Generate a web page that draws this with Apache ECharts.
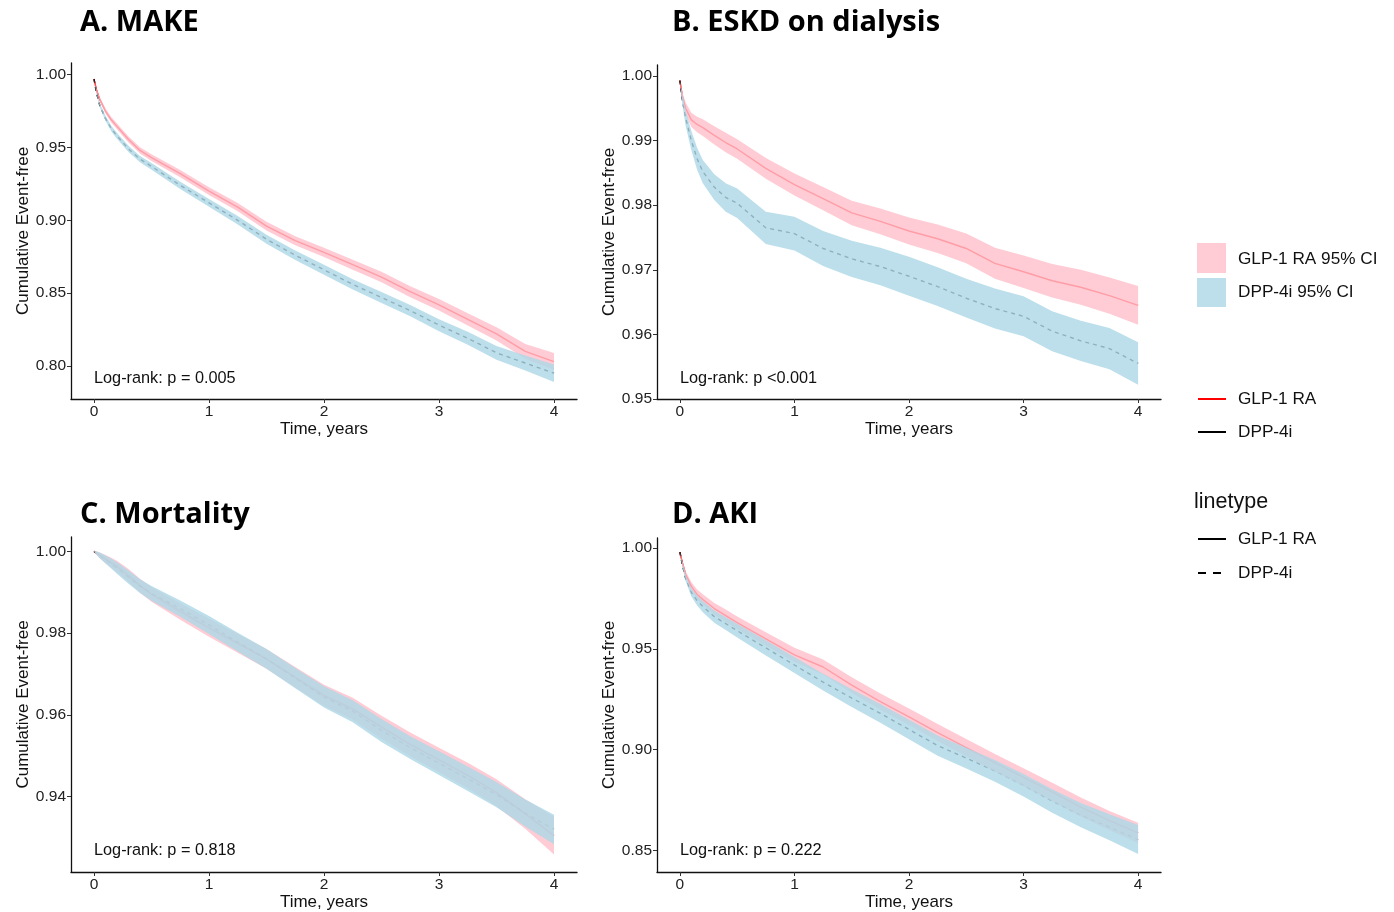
<!DOCTYPE html>
<html>
<head>
<meta charset="utf-8">
<title>Kaplan-Meier curves</title>
<script src="https://cdn.jsdelivr.net/npm/echarts@6/dist/echarts.min.js"></script>
<style>
  html, body { margin: 0; padding: 0; background: #fff; }
  #km-chart { width: 1394px; height: 912px; }
</style>
</head>
<body>
<div id="km-chart"></div>
<script>
const TIME = [0, 0.02, 0.05, 0.1, 0.15, 0.2, 0.3, 0.4, 0.5, 0.75, 1, 1.25, 1.5, 1.75, 2, 2.25, 2.5, 2.75, 3, 3.25, 3.5, 3.75, 4];
const X_TICKS = [0, 1, 2, 3, 4];

// A. MAKE (estimate and 95% CI half-width)
const MAKE_GLP = [0.997, 0.990, 0.983, 0.975, 0.969, 0.9645, 0.9555, 0.948, 0.943, 0.932, 0.920, 0.909, 0.896, 0.886, 0.878, 0.8695, 0.861, 0.851, 0.842, 0.832, 0.822, 0.810, 0.803];
const MAKE_GLP_HW = [0, 0.001, 0.0013, 0.0017, 0.0019, 0.002, 0.0021, 0.0022, 0.0023, 0.0025, 0.0027, 0.0028, 0.003, 0.0031, 0.0032, 0.0034, 0.0036, 0.0038, 0.004, 0.0042, 0.0045, 0.005, 0.0058];
const MAKE_DPP = [0.997, 0.988, 0.979, 0.970, 0.963, 0.958, 0.949, 0.942, 0.937, 0.924, 0.912, 0.900, 0.887, 0.876, 0.866, 0.856, 0.847, 0.838, 0.828, 0.819, 0.809, 0.802, 0.795];
const MAKE_DPP_HW = [0, 0.001, 0.0013, 0.0017, 0.0019, 0.002, 0.0021, 0.0022, 0.0023, 0.0025, 0.0027, 0.0029, 0.0031, 0.0032, 0.0034, 0.0035, 0.0037, 0.0039, 0.0041, 0.0044, 0.0047, 0.0052, 0.006];
const MAKE_Y_TICKS = [0.80, 0.85, 0.90, 0.95, 1.00];

// B. ESKD on dialysis
const ESKD_GLP = [0.9993, 0.9970, 0.9950, 0.9932, 0.9925, 0.9920, 0.9908, 0.9897, 0.9887, 0.9857, 0.9832, 0.9810, 0.9788, 0.9775, 0.9760, 0.9748, 0.9733, 0.9710, 0.9697, 0.9683, 0.9673, 0.9660, 0.9645];
const ESKD_GLP_HW = [0, 0.0006, 0.0009, 0.0011, 0.0012, 0.0013, 0.0014, 0.0015, 0.0015, 0.0016, 0.0017, 0.0018, 0.0019, 0.002, 0.0021, 0.0022, 0.0023, 0.0024, 0.0025, 0.0026, 0.0027, 0.0028, 0.003];
const ESKD_DPP = [0.9993, 0.9965, 0.9935, 0.9900, 0.9872, 0.9852, 0.9828, 0.9812, 0.9803, 0.9765, 0.9756, 0.9733, 0.9717, 0.9705, 0.9690, 0.9674, 0.9656, 0.9640, 0.9628, 0.9605, 0.9590, 0.9578, 0.9555];
const ESKD_DPP_HW = [0, 0.0008, 0.0012, 0.0015, 0.0017, 0.0018, 0.002, 0.0022, 0.0023, 0.0025, 0.0026, 0.0027, 0.0028, 0.0029, 0.003, 0.003, 0.003, 0.0031, 0.0031, 0.0031, 0.0031, 0.0032, 0.0033];
const ESKD_Y_TICKS = [0.95, 0.96, 0.97, 0.98, 0.99, 1.00];

// C. Mortality
const MORT_GLP = [1.0, 0.9996, 0.9990, 0.9981, 0.9972, 0.9963, 0.9941, 0.9916, 0.9895, 0.9853, 0.9813, 0.9775, 0.9737, 0.9692, 0.9648, 0.9615, 0.9570, 0.9528, 0.9490, 0.9452, 0.9410, 0.9358, 0.9305];
const MORT_GLP_HW = [0, 0.0004, 0.0007, 0.001, 0.0012, 0.0014, 0.0016, 0.0017, 0.0018, 0.002, 0.0022, 0.0023, 0.0024, 0.0025, 0.0026, 0.0027, 0.0028, 0.0029, 0.003, 0.0031, 0.0033, 0.0036, 0.0046];
const MORT_DPP = [1.0, 0.9996, 0.9990, 0.9980, 0.9970, 0.9959, 0.9937, 0.9915, 0.9897, 0.9860, 0.9820, 0.9778, 0.9737, 0.9690, 0.9644, 0.9609, 0.9562, 0.9520, 0.9482, 0.9444, 0.9405, 0.9360, 0.9320];
const MORT_DPP_HW = [0, 0.0004, 0.0007, 0.001, 0.0012, 0.0014, 0.0016, 0.0017, 0.0018, 0.002, 0.0022, 0.0023, 0.0024, 0.0025, 0.0026, 0.0027, 0.0028, 0.0028, 0.0029, 0.003, 0.0031, 0.0033, 0.0036];
const MORT_Y_TICKS = [0.94, 0.96, 0.98, 1.00];

// D. AKI
const AKI_GLP = [0.998, 0.993, 0.987, 0.981, 0.977, 0.9745, 0.970, 0.9665, 0.963, 0.955, 0.947, 0.941, 0.932, 0.9238, 0.9163, 0.9085, 0.901, 0.8935, 0.8863, 0.8790, 0.8715, 0.8648, 0.8587];
const AKI_GLP_HW = [0, 0.001, 0.0015, 0.002, 0.0024, 0.0026, 0.0028, 0.003, 0.0031, 0.0033, 0.0035, 0.0037, 0.0039, 0.004, 0.0041, 0.0042, 0.0043, 0.0044, 0.0045, 0.0046, 0.0047, 0.0048, 0.005];
const AKI_DPP = [0.998, 0.992, 0.985, 0.978, 0.974, 0.971, 0.966, 0.9625, 0.959, 0.9505, 0.942, 0.9335, 0.9256, 0.918, 0.910, 0.902, 0.8958, 0.8895, 0.8823, 0.8745, 0.8675, 0.8615, 0.8554];
const AKI_DPP_HW = [0, 0.001, 0.0015, 0.002, 0.0025, 0.0028, 0.003, 0.0032, 0.0034, 0.0038, 0.004, 0.0042, 0.0044, 0.0046, 0.0048, 0.005, 0.0052, 0.0054, 0.0056, 0.0058, 0.006, 0.0065, 0.0072];
const AKI_Y_TICKS = [0.85, 0.90, 0.95, 1.00];

const TITLES = ['A. MAKE', 'B. ESKD on dialysis', 'C. Mortality', 'D. AKI'];
const LOGRANK = ['Log-rank: p = 0.005', 'Log-rank: p <0.001', 'Log-rank: p = 0.818', 'Log-rank: p = 0.222'];

const TEXT_FONT = '"Liberation Sans", Arial, sans-serif';
const TITLE_FONT = '"Open Sans", "Noto Sans", sans-serif';
const PINK = '#FFC0CB';
const LIGHTBLUE = '#ADD8E6';
const BAND_OPACITY = 0.82;

let panels = [
    {glp: MAKE_GLP, glpHw: MAKE_GLP_HW, dpp: MAKE_DPP, dppHw: MAKE_DPP_HW, ticks: MAKE_Y_TICKS,
     yMin: 0.7773, yMax: 1.008, titleX: 80, titleY: 8, grid: {left: 71, top: 63, width: 506, height: 336}},
    {glp: ESKD_GLP, glpHw: ESKD_GLP_HW, dpp: ESKD_DPP, dppHw: ESKD_DPP_HW, ticks: ESKD_Y_TICKS,
     yMin: 0.95, yMax: 1.0017, titleX: 672, titleY: 8, grid: {left: 657, top: 65, width: 504, height: 334}},
    {glp: MORT_GLP, glpHw: MORT_GLP_HW, dpp: MORT_DPP, dppHw: MORT_DPP_HW, ticks: MORT_Y_TICKS,
     yMin: 0.9216, yMax: 1.0035, titleX: 80, titleY: 500, grid: {left: 71, top: 537, width: 506, height: 335}},
    {glp: AKI_GLP, glpHw: AKI_GLP_HW, dpp: AKI_DPP, dppHw: AKI_DPP_HW, ticks: AKI_Y_TICKS,
     yMin: 0.8393, yMax: 1.005, titleX: 672, titleY: 500, grid: {left: 657, top: 538, width: 504, height: 334}}
];

let echarts_km = echarts.init(document.getElementById('km-chart'));


function band_series(idx, est, hw, color) {
    return {
        type: 'custom',
        xAxisIndex: idx,
        yAxisIndex: idx,
        silent: true,
        z: 3,
        encode: {x: 0, y: [1, 2]},
        data: TIME.map((t, i) => [t, est[i] - hw[i], est[i] + hw[i]]),
        renderItem: function (params, api) {
            if (params.dataIndexInside !== 0) {
                return null;
            }
            let upper = [];
            let lower = [];
            TIME.forEach((t, i) => {
                upper.push(api.coord([t, est[i] + hw[i]]));
                lower.unshift(api.coord([t, est[i] - hw[i]]));
            });
            return {
                type: 'polygon',
                shape: {points: upper.concat(lower)},
                style: {fill: color, opacity: BAND_OPACITY}
            };
        }
    };
}


function line_series(idx, est, color, dashed) {
    return {
        type: 'line',
        xAxisIndex: idx,
        yAxisIndex: idx,
        silent: true,
        z: 2,
        showSymbol: false,
        symbol: 'none',
        lineStyle: {color: color, width: 1.4, type: dashed ? [4, 4] : 'solid'},
        data: TIME.map((t, i) => [t, est[i]])
    };
}


let grids = [], xAxes = [], yAxes = [], series = [], titles = [], graphics = [];

panels.forEach((p, idx) => {
    grids.push(Object.assign({outerBoundsMode: 'none', containLabel: false}, p.grid));

    xAxes.push({
        type: 'value',
        gridIndex: idx,
        min: -0.2,
        max: 4.2,
        splitLine: {show: false},
        axisLine: {show: true, onZero: false, lineStyle: {color: '#111', width: 1.3}},
        axisTick: {show: true, length: 4, customValues: X_TICKS, lineStyle: {color: '#333'}},
        axisLabel: {customValues: X_TICKS, margin: 5, color: '#222', fontSize: 15.5, fontFamily: TEXT_FONT},
        name: 'Time, years',
        nameLocation: 'middle',
        nameGap: 19,
        nameTextStyle: {color: '#111', fontSize: 17, fontFamily: TEXT_FONT}
    });

    yAxes.push({
        type: 'value',
        gridIndex: idx,
        min: p.yMin,
        max: p.yMax,
        splitLine: {show: false},
        axisLine: {show: true, onZero: false, lineStyle: {color: '#111', width: 1.3}},
        axisTick: {show: true, length: 4, customValues: p.ticks, lineStyle: {color: '#333'}},
        axisLabel: {
            customValues: p.ticks,
            margin: 5,
            color: '#222',
            fontSize: 15.5,
            fontFamily: TEXT_FONT,
            formatter: v => v.toFixed(2)
        },
        name: 'Cumulative Event-free',
        nameLocation: 'middle',
        nameGap: 36,
        nameTextStyle: {color: '#111', fontSize: 17, fontFamily: TEXT_FONT}
    });

    // lines sit under the semi-transparent CI bands, like the original plot
    series.push(line_series(idx, p.glp, '#FF0000', false));
    series.push(line_series(idx, p.dpp, '#000000', true));
    series.push(band_series(idx, p.glp, p.glpHw, PINK));
    series.push(band_series(idx, p.dpp, p.dppHw, LIGHTBLUE));

    titles.push({
        text: TITLES[idx],
        left: p.titleX,
        top: p.titleY,
        padding: 0,
        textStyle: {fontFamily: TITLE_FONT, fontWeight: 'bold', fontSize: 29, color: '#000'}
    });

    graphics.push({
        type: 'text',
        x: p.grid.left + 23,
        y: idx < 2 ? 379 : 851,
        style: {text: LOGRANK[idx], fontFamily: TEXT_FONT, fontSize: 16.3, fill: '#111', verticalAlign: 'middle'}
    });
});

// legend, drawn by hand to match the ggplot guide layout
const legendText = {fontFamily: TEXT_FONT, fontSize: 17.2, fill: '#111', verticalAlign: 'middle'};
graphics.push(
    {type: 'rect', shape: {x: 1197, y: 243, width: 29, height: 30}, style: {fill: PINK, opacity: BAND_OPACITY}},
    {type: 'rect', shape: {x: 1197, y: 278, width: 29, height: 29}, style: {fill: LIGHTBLUE, opacity: BAND_OPACITY}},
    {type: 'text', x: 1238, y: 259, style: Object.assign({text: 'GLP-1 RA 95% CI'}, legendText)},
    {type: 'text', x: 1238, y: 292, style: Object.assign({text: 'DPP-4i 95% CI'}, legendText)},

    {type: 'line', shape: {x1: 1198, y1: 399, x2: 1226, y2: 399}, style: {stroke: '#FF0000', lineWidth: 2}},
    {type: 'line', shape: {x1: 1198, y1: 432, x2: 1226, y2: 432}, style: {stroke: '#000', lineWidth: 2}},
    {type: 'text', x: 1238, y: 399, style: Object.assign({text: 'GLP-1 RA'}, legendText)},
    {type: 'text', x: 1238, y: 432, style: Object.assign({text: 'DPP-4i'}, legendText)},

    {type: 'text', x: 1194, y: 502, style: Object.assign({}, legendText, {text: 'linetype', fontSize: 21.5})},
    {type: 'line', shape: {x1: 1198, y1: 539, x2: 1226, y2: 539}, style: {stroke: '#000', lineWidth: 2}},
    {type: 'line', shape: {x1: 1198, y1: 573, x2: 1226, y2: 573}, style: {stroke: '#000', lineWidth: 2, lineDash: [8, 7]}},
    {type: 'text', x: 1238, y: 539, style: Object.assign({text: 'GLP-1 RA'}, legendText)},
    {type: 'text', x: 1238, y: 573, style: Object.assign({text: 'DPP-4i'}, legendText)}
);

let echarts_options = {
    backgroundColor: '#fff',
    animation: false,
    title: titles,
    grid: grids,
    xAxis: xAxes,
    yAxis: yAxes,
    series: series,
    graphic: graphics
};

echarts_km.setOption(echarts_options);
</script>
</body>
</html>
